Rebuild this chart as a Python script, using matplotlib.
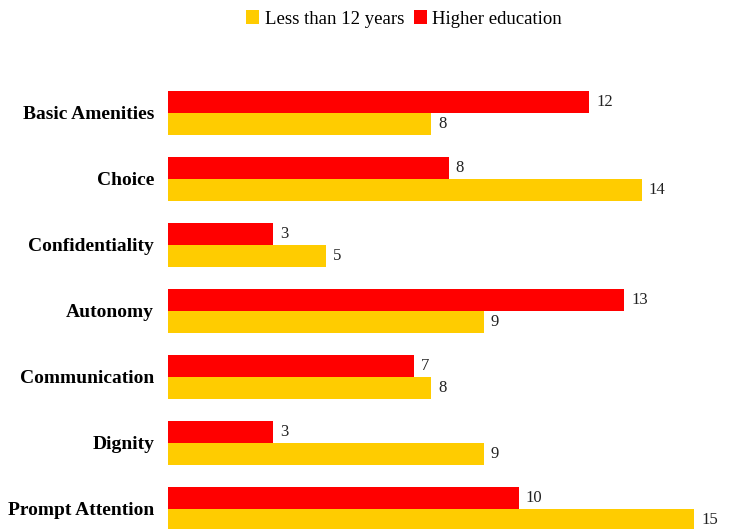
import numpy as np
import matplotlib.pyplot as plt

plt.rcParams['font.family'] = ['Liberation Serif', 'DejaVu Serif']

categories = ['Basic Amenities', 'Choice', 'Confidentiality', 'Autonomy',
              'Communication', 'Dignity', 'Prompt Attention']
# bar lengths (yellow bars are at half steps)
less_than_12 = [7.5, 13.5, 4.5, 9, 7.5, 9, 15]
higher_edu = [12, 8, 3, 13, 7, 3, 10]
# data labels as printed on the chart
less_labels = ['8', '14', '5', '9', '8', '9', '15']
higher_labels = ['12', '8', '3', '13', '7', '3', '10']

fig = plt.figure(figsize=(7.33, 5.29), dpi=100)
ax = fig.add_axes([168 / 733, 0, 1 - 168 / 733, (529 - 60) / 529])

y = np.arange(len(categories))[::-1]
h = 1 / 3

b_low = ax.barh(y - h / 2, less_than_12, height=h, color='#FFCC00',
                label='Less than 12 years')
b_high = ax.barh(y + h / 2, higher_edu, height=h, color='#FF0000',
                 label='Higher education')

ax.bar_label(b_high, labels=higher_labels, padding=5, fontsize=12, color='#222222')
ax.bar_label(b_low, labels=less_labels, padding=5, fontsize=12, color='#222222')

ax.set_yticks(y)
ax.set_yticklabels(categories, fontsize=14, fontweight='bold')
ax.tick_params(axis='y', length=0, pad=10)
ax.set_xticks([])
ax.set_xlim(0, 565 / 35.1)
ax.set_ylim(-0.303, 6.80)
for s in ax.spines.values():
    s.set_visible(False)

fig.legend(handles=[b_low, b_high], loc='center',
           bbox_to_anchor=(404 / 733, 1 - 19 / 529), ncol=2, frameon=False,
           fontsize=13.5, handlelength=0.7, handleheight=0.7,
           handletextpad=0.3, columnspacing=0.5)

fig.savefig('out.png', dpi=100)
